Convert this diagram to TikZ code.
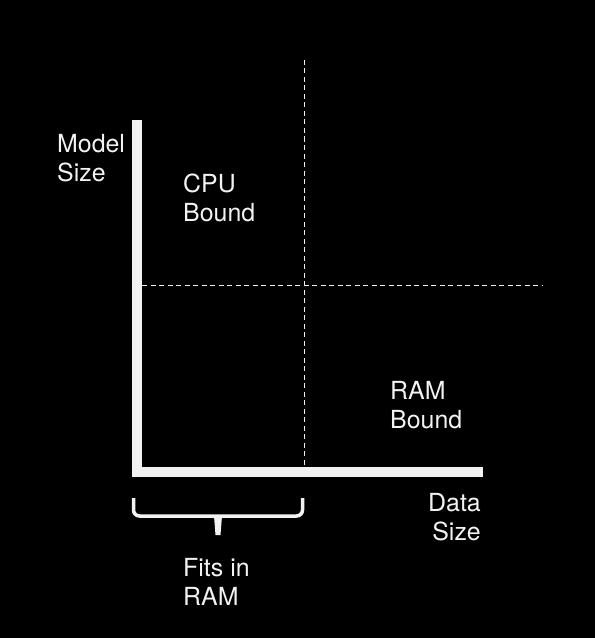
\documentclass[tikz,border=0pt]{standalone}
\usepackage{fontspec}
\setmainfont{TeX Gyre Heros}
\definecolor{axiswhite}{HTML}{F2F2F2}
\tikzset{
  axisline/.style={axiswhite, line width=10bp},
  guide/.style={axiswhite, line width=1bp, dash pattern=on 5bp off 3.5bp},
  lbl/.style={text=axiswhite, inner sep=0pt, align=left,
    font=\fontsize{25}{29}\selectfont}
}
\begin{document}
\begin{tikzpicture}[x=1bp,y=-1bp]
			% Background
			\fill[black] (0,0) rectangle (595,638);
			\useasboundingbox (0,0) rectangle (595,638);
			
			% Dashed lines to split the quadrants
			\draw[guide] (304,60) -- (304,466);
			\draw[guide] (142,285.5) -- (542,285.5);
			
			% Draw axes
			\draw[axisline] (137,120) -- (137,471.5) -- (483,471.5);
			
			% Brace under the small data range
			\draw[axiswhite, line width=3.5bp, rounded corners=6bp]
			(133.5,498) -- (133.5,516) -- (302.5,516) -- (302.5,498);
			\fill[axiswhite] (214,516) -- (215.5,535) -- (220.5,535) -- (222,516) -- cycle;
			
			% Axis labels
			\node[lbl, anchor=west] (ylab) at (57,158) {Model\\Size};
			\node[lbl, anchor=east, align=right] (xlab) at (481,517) {Data\\Size};
			
			% Quadrant labels
			\node[lbl, anchor=west] (cpu) at (183,198) {CPU\\Bound};
			\node[lbl, anchor=west] (ram) at (390,405) {RAM\\Bound};
			\node[lbl, anchor=west] (fits) at (183,582) {Fits in\\RAM};
			
		\end{tikzpicture}
\end{document}
